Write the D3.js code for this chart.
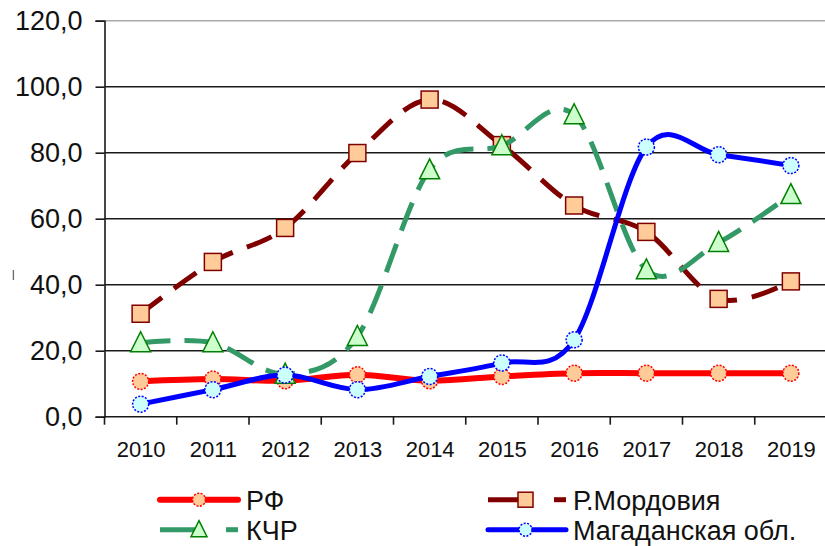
<!DOCTYPE html>
<html><head><meta charset="utf-8">
<script src="https://cdn.jsdelivr.net/npm/d3@7"></script>
<style>
html,body{margin:0;padding:0;background:#fff;}
svg{display:block;font-family:"Liberation Sans",Arial,sans-serif;}
</style></head>
<body>
<svg id="chart" width="825" height="546"></svg>
<script>
const years = ["2010","2011","2012","2013","2014","2015","2016","2017","2018","2019"];
const yTicks = [0,20,40,60,80,100,120];
const seriesNames = ["РФ","Р.Мордовия","КЧР","Магаданская обл."];
const rf       = [10.7,11.4,10.9,12.7,10.9,12.2,13.2,13.2,13.2,13.2];
const mordovia = [31.2,46.9,57.2,79.9,96.1,82.3,64.0,56.0,35.7,41.0];
const kchr     = [22.4,22.4,12.9,24.3,74.8,82.1,91.5,44.5,52.8,67.3];
const magadan  = [3.8,8.2,12.6,8.2,12.2,16.3,23.3,81.7,79.4,76.1];

const svg = d3.select("#chart");
const pLeft = 104.5, pRight = 827, pTop = 20.7, pBottom = 416.7;
const x = d3.scalePoint().domain(years).range([pLeft, pRight]).padding(0.5);
const y = d3.scaleLinear().domain([0,120]).range([pBottom, pTop]);

// gridlines
svg.append("g").selectAll("line").data(yTicks.filter(d=>d>0)).join("line")
  .attr("x1", pLeft).attr("x2", 825)
  .attr("y1", d=>y(d)).attr("y2", d=>y(d))
  .attr("stroke", d=> d===120 ? "#aaaaaa" : "#1a1a1a")
  .attr("stroke-width", 1.6);

// y axis
const yAxis = svg.append("g").attr("transform", `translate(${pLeft},0)`)
  .call(d3.axisLeft(y).tickValues(yTicks).tickSize(9).tickPadding(13)
        .tickFormat(d => d3.format(".1f")(d).replace(".", ",")));
yAxis.select(".domain").attr("stroke","#1a1a1a").attr("stroke-width",1.6);
yAxis.selectAll(".tick line").attr("stroke","#1a1a1a").attr("stroke-width",1.6);
yAxis.selectAll("text").attr("font-size", 27).attr("fill","#111")
  .attr("font-family","Liberation Sans, Arial, sans-serif");

// x axis
const xb = d3.scaleBand().domain(years).range([pLeft, pRight]);
const xAxis = svg.append("g").attr("transform", `translate(0,${pBottom})`)
  .call(d3.axisBottom(x).tickSize(0).tickPadding(40));
xAxis.select(".domain").attr("d", `M${pLeft},0H825`).attr("stroke","#1a1a1a").attr("stroke-width",1.6);
xAxis.selectAll("text").attr("font-size", 22).attr("fill","#111")
  .attr("font-family","Liberation Sans, Arial, sans-serif").attr("dy","0");
svg.append("g").selectAll("line").data(years).join("line")
  .attr("x1", d=>xb(d)).attr("x2", d=>xb(d))
  .attr("y1", pBottom).attr("y2", pBottom+8)
  .attr("stroke","#1a1a1a").attr("stroke-width",1.6);

// stray mark on the left
svg.append("text").attr("x", 12).attr("y", 278).attr("font-size", 10).attr("fill","#111").text("|");

const line = d3.line().x((d,i)=>x(years[i])).y(d=>y(d)).curve(d3.curveCardinal.tension(0));

const styles = [
  {data: rf, color:"#ff0000", width:6, dash:null, marker:"circle", fill:"#ffcc99", mstroke:"#ff0000"},
  {data: mordovia, color:"#800000", width:5, dash:"27,15", marker:"square", fill:"#ffcc99", mstroke:"#800000"},
  {data: kchr, color:"#339966", width:5, dash:"30,14", marker:"triangle", fill:"#ccffcc", mstroke:"#008000"},
  {data: magadan, color:"#0000ff", width:5, dash:null, marker:"circle", fill:"#ccffff", mstroke:"#0000ff"}
];

function drawMarker(g, type, cx, cy, s) {
  if (type === "circle") {
    g.append("circle").attr("cx",cx).attr("cy",cy).attr("r",8)
      .attr("fill", s.fill).attr("stroke", s.mstroke).attr("stroke-width",1.5)
      .attr("stroke-dasharray","2,1.5");
  } else if (type === "square") {
    g.append("rect").attr("x",cx-8.5).attr("y",cy-8.5).attr("width",17).attr("height",17)
      .attr("fill", s.fill).attr("stroke", s.mstroke).attr("stroke-width",1.5);
  } else {
    g.append("path").attr("d", `M${cx},${cy-11}L${cx+10},${cy+9}L${cx-10},${cy+9}Z`)
      .attr("fill", s.fill).attr("stroke", s.mstroke).attr("stroke-width",1.5);
  }
}

styles.forEach(s => {
  const g = svg.append("g");
  g.append("path").attr("d", line(s.data)).attr("fill","none")
    .attr("stroke", s.color).attr("stroke-width", s.width)
    .attr("stroke-dasharray", s.dash).attr("stroke-linejoin","round");
  s.data.forEach((v,i) => drawMarker(g, s.marker, x(years[i]), y(v), s));
});

// legend
const legendItems = [
  {s: styles[0], name: seriesNames[0], x0:160, x1:238, mx:199, tx:246, ly:499.7},
  {s: styles[1], name: seriesNames[1], x0:488, x1:566, mx:525.5, tx:573, ly:499.7},
  {s: styles[2], name: seriesNames[2], x0:160, x1:238, mx:199, tx:246, ly:529.7},
  {s: styles[3], name: seriesNames[3], x0:488, x1:566, mx:525.5, tx:573, ly:529.7}
];
legendItems.forEach(it => {
  const g = svg.append("g");
  if (it.s.dash) {
    g.append("line").attr("x1",it.x0).attr("x2",it.mx).attr("y1",it.ly).attr("y2",it.ly)
      .attr("stroke",it.s.color).attr("stroke-width",it.s.width);
    g.append("line").attr("x1",it.x1-12).attr("x2",it.x1).attr("y1",it.ly).attr("y2",it.ly)
      .attr("stroke",it.s.color).attr("stroke-width",it.s.width);
  } else {
    g.append("line").attr("x1",it.x0).attr("x2",it.x1).attr("y1",it.ly).attr("y2",it.ly)
      .attr("stroke",it.s.color).attr("stroke-width",it.s.width).attr("stroke-linecap","round");
  }
  if (it.s.marker === "circle") {
    g.append("circle").attr("cx",it.mx).attr("cy",it.ly).attr("r",6.5)
      .attr("fill", it.s.fill).attr("stroke", it.s.mstroke).attr("stroke-width",1.5)
      .attr("stroke-dasharray","2,1.5");
  } else if (it.s.marker === "square") {
    g.append("rect").attr("x",it.mx-7.5).attr("y",it.ly-7.5).attr("width",15).attr("height",15)
      .attr("fill", it.s.fill).attr("stroke", it.s.mstroke).attr("stroke-width",1.5);
  } else {
    g.append("path").attr("d", `M${it.mx},${it.ly-9}L${it.mx+8},${it.ly+7}L${it.mx-8},${it.ly+7}Z`)
      .attr("fill", it.s.fill).attr("stroke", it.s.mstroke).attr("stroke-width",1.5);
  }
  g.append("text").attr("x", it.tx).attr("y", it.ly+10).attr("font-size",27).attr("fill","#111")
    .text(it.name);
});
</script>
</body></html>
